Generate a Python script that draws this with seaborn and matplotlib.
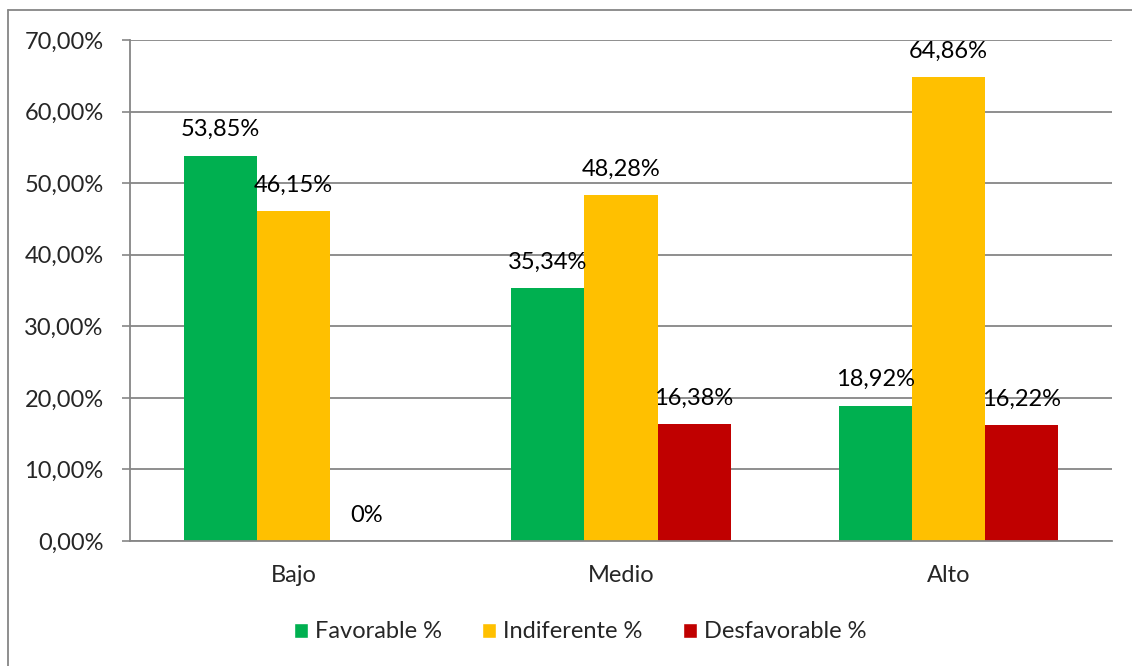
import matplotlib
matplotlib.use("Agg")
import matplotlib.pyplot as plt
from matplotlib.lines import Line2D
from matplotlib.patches import Patch
import seaborn as sns
import pandas as pd

categories = ["Bajo", "Medio", "Alto"]
series_names = ["Favorable %", "Indiferente %", "Desfavorable %"]
favorable = [53.85, 35.34, 18.92]
indiferente = [46.15, 48.28, 64.86]
desfavorable = [0.0, 16.38, 16.22]
colors = ["#00B050", "#FFC000", "#C00000"]
yticks = [0, 10, 20, 30, 40, 50, 60, 70]

rows = []
for name, vals in zip(series_names, [favorable, indiferente, desfavorable]):
    for c, v in zip(categories, vals):
        rows.append({"cat": c, "serie": name, "val": v})
df = pd.DataFrame(rows)

sns.set_theme(style="white")
FONT = "Lato"
plt.rcParams["font.family"] = [FONT, "DejaVu Sans"]
FS = 17

fig = plt.figure(figsize=(11.32, 6.66), dpi=100)
ax = fig.add_axes([130/1132, 1-541/666, (1112-130)/1132, (541-40)/666])

sns.barplot(data=df, x="cat", y="val", hue="serie", order=categories,
            hue_order=series_names, palette=colors, width=0.67,
            saturation=1, ax=ax, legend=False, linewidth=0)

def fmt(v):
    if v == 0:
        return "0%"
    return f"{v:.2f}%".replace(".", ",")

for cont, vals in zip(ax.containers, [favorable, indiferente, desfavorable]):
    ax.bar_label(cont, labels=[fmt(v) for v in vals], padding=11,
                 fontsize=FS, color="black")

ax.set_xlim(-0.5, 2.5)
ax.set_ylim(0, 70)
ax.set_yticks(yticks)
ax.set_yticklabels([f"{t:.2f}%".replace(".", ",") for t in yticks], fontsize=FS)
ax.set_xticks([0, 1, 2])
ax.set_xticklabels(categories, fontsize=FS)
ax.set_xticks([-0.5, 0.5, 1.5, 2.5], minor=True)
ax.tick_params(axis="x", which="major", length=0, pad=17)
ax.tick_params(axis="x", which="minor", length=6, width=1.2, color="#868686", direction="out")
ax.tick_params(axis="y", length=6, width=1.2, color="#868686", direction="out", left=True, pad=13)
ax.set_xlabel("")
ax.set_ylabel("")
ax.yaxis.grid(True, color="#868686", linewidth=1.3)
ax.set_axisbelow(True)
for s in ["top", "right"]:
    ax.spines[s].set_visible(False)
for s in ["left", "bottom"]:
    ax.spines[s].set_color("#868686")
    ax.spines[s].set_linewidth(1.3)

handles = [Patch(facecolor=c, label=n) for c, n in zip(colors, series_names)]
fig.legend(handles=handles, loc="center", bbox_to_anchor=(580/1132, 1-632/666),
           ncol=3, frameon=False, fontsize=FS, handlelength=0.6, handleheight=0.6,
           handletextpad=0.3, columnspacing=1.7)

# outer chart border
fig.add_artist(Line2D([8/1132, 8/1132], [0, 1-10/666], transform=fig.transFigure,
                      color="#868686", linewidth=1.3))
fig.add_artist(Line2D([8/1132, 1], [1-10/666, 1-10/666], transform=fig.transFigure,
                      color="#868686", linewidth=1.3))

fig.savefig("out.png", dpi=100, facecolor="white")
